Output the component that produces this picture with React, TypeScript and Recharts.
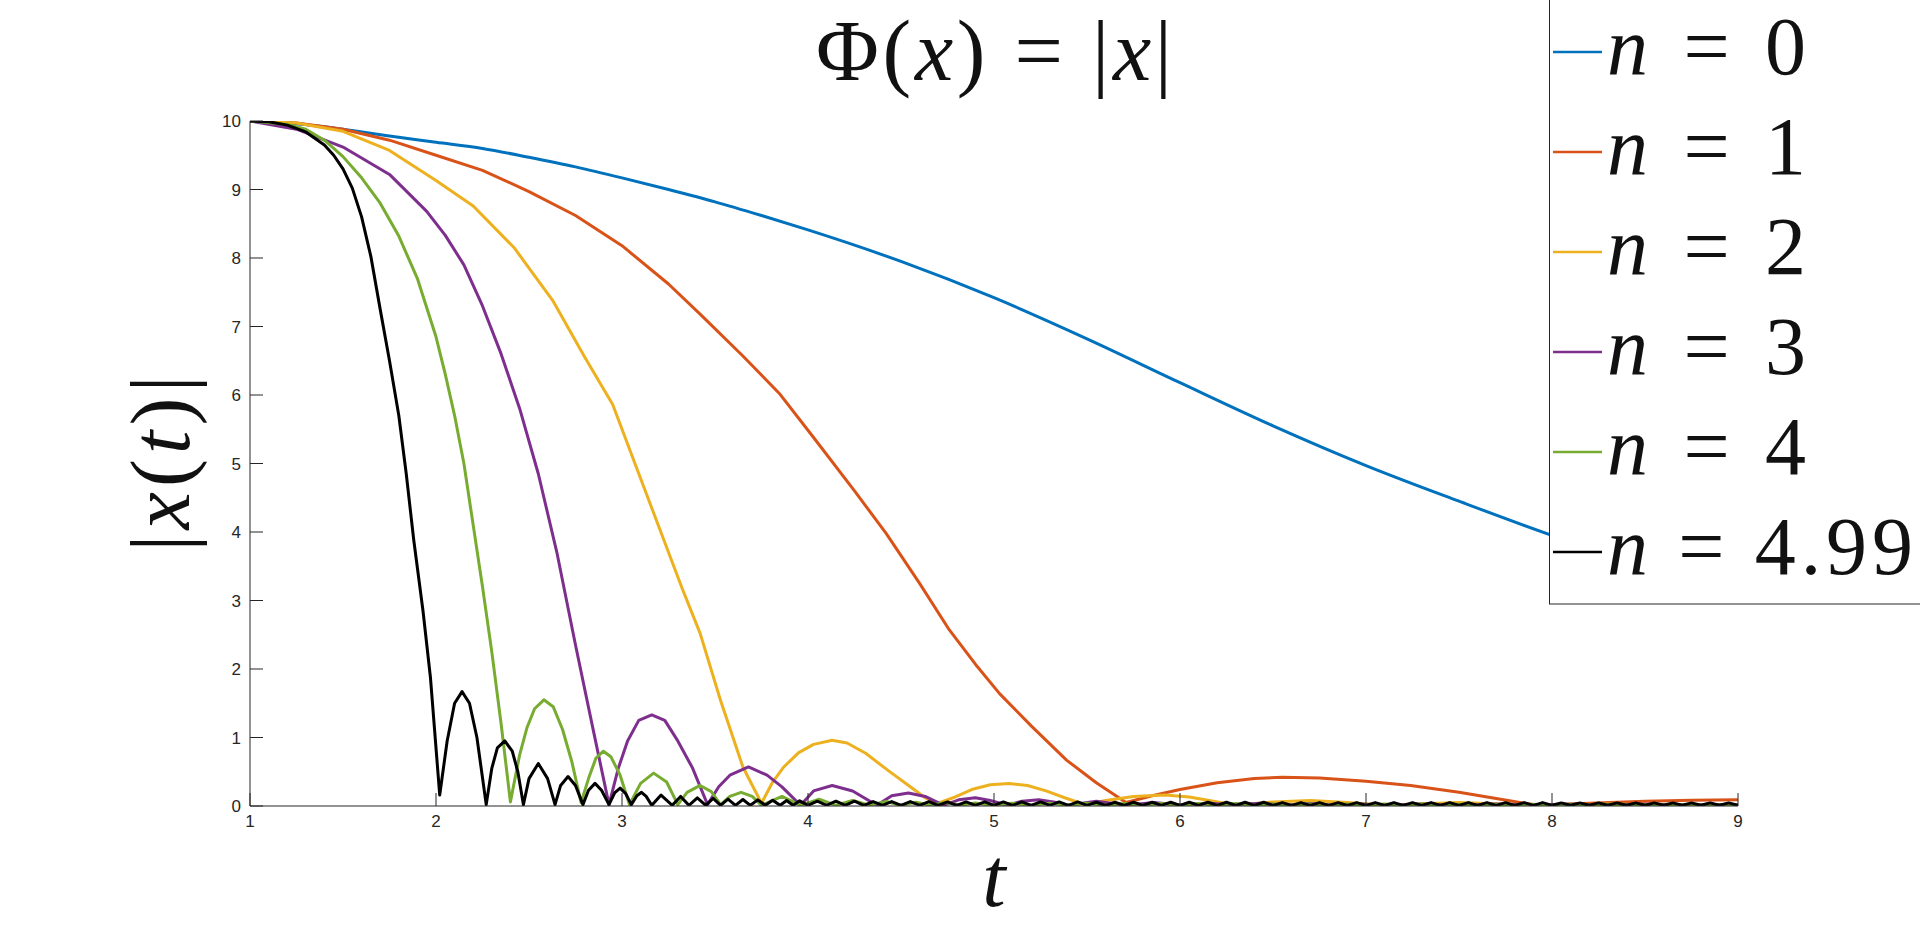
import React from 'react';
import { LineChart, Line, XAxis, YAxis, Label } from 'recharts';

// t grids and |x(t)| values, one pair per n
const tN0 = [1, 1.25, 1.5, 1.75, 2, 2.25, 2.5, 2.75, 3, 3.25, 3.5, 3.75, 4, 4.5, 5, 5.5, 6, 6.5, 7, 7.5, 8, 8.5, 9];
const vN0 = [10, 9.96, 9.88, 9.78, 9.69, 9.6, 9.47, 9.33, 9.17, 9.0, 8.82, 8.62, 8.41, 7.95, 7.42, 6.82, 6.18, 5.55, 4.97, 4.45, 3.95, 3.5, 3.1];

const tN1 = [1, 1.25, 1.5, 1.75, 2, 2.25, 2.5, 2.75, 3, 3.25, 3.42, 3.65, 3.85, 4.03, 4.25, 4.42, 4.6, 4.76, 4.9, 5.03, 5.2, 5.39, 5.55, 5.71, 5.85, 6, 6.2, 6.4, 6.55, 6.75, 7, 7.24, 7.5, 7.7, 7.92, 8.2, 8.5, 8.75, 9];
const vN1 = [10, 9.97, 9.88, 9.72, 9.5, 9.28, 8.97, 8.62, 8.18, 7.62, 7.18, 6.57, 6.01, 5.38, 4.6, 3.98, 3.25, 2.57, 2.07, 1.64, 1.17, 0.67, 0.34, 0.05, 0.15, 0.24, 0.34, 0.4, 0.42, 0.41, 0.36, 0.3, 0.2, 0.11, 0.01, 0.04, 0.07, 0.085, 0.09];

const tN2 = [1, 1.25, 1.5, 1.75, 2, 2.2, 2.42, 2.63, 2.8, 2.95, 3.1, 3.22, 3.32, 3.42, 3.53, 3.65, 3.75, 3.81, 3.87, 3.95, 4.03, 4.13, 4.21, 4.31, 4.43, 4.55, 4.63, 4.7, 4.78, 4.88, 4.98, 5.08, 5.18, 5.28, 5.38, 5.49, 5.6, 5.75, 5.92, 6.05, 6.18, 6.3, 6.5, 6.7, 6.9, 7.1, 7.5, 7.9, 8.3, 8.7, 9];
const vN2 = [10, 9.97, 9.85, 9.57, 9.13, 8.76, 8.15, 7.37, 6.55, 5.86, 4.78, 3.92, 3.2, 2.52, 1.54, 0.57, 0.04, 0.35, 0.57, 0.78, 0.9, 0.96, 0.92, 0.77, 0.52, 0.28, 0.12, 0.04, 0.12, 0.24, 0.31, 0.33, 0.3, 0.22, 0.12, 0.02, 0.08, 0.14, 0.16, 0.13, 0.07, 0.01, 0.06, 0.08, 0.05, 0.01, 0.05, 0.01, 0.03, 0.01, 0.02];

const tN3 = [1, 1.25, 1.5, 1.75, 1.85, 1.95, 2.05, 2.15, 2.25, 2.35, 2.45, 2.55, 2.65, 2.75, 2.85, 2.93, 2.98, 3.03, 3.09, 3.16, 3.23, 3.3, 3.38, 3.46, 3.52, 3.58, 3.68, 3.78, 3.86, 3.96, 4.03, 4.13, 4.24, 4.37, 4.45, 4.54, 4.63, 4.73, 4.81, 4.9, 4.98, 5.07, 5.15, 5.24, 5.32, 5.4, 5.55, 5.71, 5.86, 6.01, 6.15, 6.29, 6.43, 6.57, 6.7, 6.84, 6.97, 7.1, 7.3, 7.5, 7.7, 7.9, 8.1, 8.3, 8.5, 8.7, 8.9, 9];
const vN3 = [10, 9.88, 9.62, 9.22, 8.95, 8.68, 8.33, 7.9, 7.3, 6.6, 5.8, 4.85, 3.7, 2.35, 1.05, 0.02, 0.55, 0.95, 1.25, 1.33, 1.25, 0.95, 0.55, 0.02, 0.28, 0.45, 0.57, 0.45, 0.28, 0.01, 0.22, 0.3, 0.22, 0.01, 0.15, 0.19, 0.14, 0.01, 0.09, 0.12, 0.08, 0.01, 0.07, 0.09, 0.06, 0.01, 0.07, 0.01, 0.05, 0.01, 0.045, 0.01, 0.04, 0.01, 0.035, 0.01, 0.03, 0.01, 0.03, 0.01, 0.03, 0.01, 0.025, 0.01, 0.025, 0.01, 0.02, 0.01];

const tN4 = [1, 1.2, 1.3, 1.4, 1.5, 1.6, 1.7, 1.8, 1.9, 2.0, 2.05, 2.1, 2.15, 2.2, 2.25, 2.3, 2.35, 2.4, 2.45, 2.49, 2.53, 2.58, 2.63, 2.68, 2.73, 2.78, 2.82, 2.86, 2.9, 2.94, 2.99, 3.04, 3.1, 3.17, 3.24, 3.3, 3.35, 3.42, 3.48, 3.53, 3.58, 3.64, 3.7, 3.75, 3.86, 3.96, 4.06, 4.15, 4.24, 4.33, 4.42, 4.5, 4.58, 4.66, 4.74, 4.82, 4.9, 4.98,
  5.1, 5.2, 5.3, 5.4, 5.5, 5.6, 5.7, 5.8, 5.9, 6.0, 6.1, 6.2, 6.3, 6.4, 6.5, 6.6, 6.7, 6.8, 6.9, 7.0,
  7.1, 7.2, 7.3, 7.4, 7.5, 7.6, 7.7, 7.8, 7.9, 8.0, 8.1, 8.2, 8.3, 8.4, 8.5, 8.6, 8.7, 8.8, 8.9, 9.0];
const vN4 = [10, 9.95, 9.88, 9.72, 9.48, 9.17, 8.8, 8.32, 7.7, 6.85, 6.3, 5.7, 5.0, 4.1, 3.2, 2.25, 1.2, 0.06, 0.75, 1.15, 1.42, 1.55, 1.45, 1.12, 0.65, 0.05, 0.4, 0.7, 0.8, 0.72, 0.45, 0.02, 0.33, 0.48, 0.35, 0.02, 0.2, 0.3, 0.21, 0.02, 0.14, 0.2, 0.14, 0.01, 0.14, 0.01, 0.1, 0.01, 0.08, 0.01, 0.065, 0.01, 0.055, 0.01, 0.05, 0.01, 0.045, 0.01,
  0.04, 0.01, 0.04, 0.01, 0.04, 0.01, 0.035, 0.01, 0.035, 0.01, 0.035, 0.01, 0.035, 0.01, 0.03, 0.01, 0.03, 0.01, 0.03, 0.01,
  0.03, 0.01, 0.03, 0.01, 0.025, 0.01, 0.025, 0.01, 0.025, 0.01, 0.025, 0.01, 0.025, 0.01, 0.02, 0.01, 0.02, 0.01, 0.02, 0.01];

const tN5 = [1, 1.1, 1.2, 1.3, 1.4, 1.45, 1.5, 1.55, 1.6, 1.65, 1.7, 1.75, 1.8, 1.84, 1.88, 1.93, 1.97, 2.02, 2.06, 2.1, 2.14, 2.18, 2.22, 2.27, 2.3, 2.33, 2.37, 2.41, 2.44, 2.47, 2.5, 2.55, 2.6, 2.64, 2.67, 2.71, 2.75, 2.79, 2.82, 2.855, 2.89, 2.93, 2.96, 2.99, 3.02, 3.05, 3.08, 3.105, 3.13, 3.16, 3.21, 3.27, 3.315, 3.36, 3.405, 3.45, 3.49, 3.53, 3.57, 3.61, 3.65, 3.69, 3.73, 3.77, 3.81, 3.85, 3.885, 3.92, 3.955,
  4.0, 4.05, 4.1, 4.15, 4.2, 4.25, 4.3, 4.35, 4.4, 4.45,
  4.5, 4.55, 4.6, 4.65, 4.7, 4.75, 4.8, 4.85, 4.9, 4.95,
  5.0, 5.05, 5.1, 5.15, 5.2, 5.25, 5.3, 5.35, 5.4, 5.45,
  5.5, 5.55, 5.6, 5.65, 5.7, 5.75, 5.8, 5.85, 5.9, 5.95,
  6.0, 6.05, 6.1, 6.15, 6.2, 6.25, 6.3, 6.35, 6.4, 6.45,
  6.5, 6.55, 6.6, 6.65, 6.7, 6.75, 6.8, 6.85, 6.9, 6.95,
  7.0, 7.05, 7.1, 7.15, 7.2, 7.25, 7.3, 7.35, 7.4, 7.45,
  7.5, 7.55, 7.6, 7.65, 7.7, 7.75, 7.8, 7.85, 7.9, 7.95,
  8.0, 8.05, 8.1, 8.15, 8.2, 8.25, 8.3, 8.35, 8.4, 8.45,
  8.5, 8.55, 8.6, 8.65, 8.7, 8.75, 8.8, 8.85, 8.9, 8.95,
  9.0];
const vN5 = [10, 9.99, 9.94, 9.84, 9.65, 9.5, 9.3, 9.02, 8.6, 8.02, 7.25, 6.5, 5.7, 4.85, 3.89, 2.85, 1.88, 0.16, 0.95, 1.5, 1.67, 1.5, 1.0, 0.02, 0.55, 0.85, 0.95, 0.8, 0.5, 0.02, 0.4, 0.62, 0.4, 0.02, 0.3, 0.43, 0.3, 0.02, 0.23, 0.33, 0.23, 0.02, 0.19, 0.26, 0.18, 0.02, 0.15, 0.2, 0.14, 0.01, 0.16, 0.01, 0.14, 0.01, 0.12, 0.01, 0.11, 0.01, 0.1, 0.01, 0.095, 0.01, 0.09, 0.01, 0.085, 0.01, 0.08, 0.01, 0.075,
  0.01, 0.07, 0.01, 0.07, 0.01, 0.07, 0.01, 0.065, 0.01, 0.065,
  0.01, 0.065, 0.01, 0.065, 0.01, 0.06, 0.01, 0.06, 0.01, 0.06,
  0.01, 0.06, 0.01, 0.06, 0.01, 0.06, 0.01, 0.06, 0.01, 0.06,
  0.01, 0.055, 0.01, 0.055, 0.01, 0.055, 0.01, 0.055, 0.01, 0.055,
  0.01, 0.055, 0.01, 0.055, 0.01, 0.055, 0.01, 0.055, 0.01, 0.055,
  0.01, 0.05, 0.01, 0.05, 0.01, 0.05, 0.01, 0.05, 0.01, 0.05,
  0.01, 0.05, 0.01, 0.05, 0.01, 0.05, 0.01, 0.05, 0.01, 0.05,
  0.01, 0.05, 0.01, 0.05, 0.01, 0.05, 0.01, 0.05, 0.01, 0.05,
  0.01, 0.045, 0.01, 0.045, 0.01, 0.045, 0.01, 0.045, 0.01, 0.045,
  0.01, 0.045, 0.01, 0.045, 0.01, 0.045, 0.01, 0.045, 0.01, 0.045,
  0.01];

const xTicks = [1, 2, 3, 4, 5, 6, 7, 8, 9];
const yTicks = [0, 1, 2, 3, 4, 5, 6, 7, 8, 9, 10];

const toPoints = (ts: number[], vs: number[]) => ts.map((t, i) => ({ t, v: vs[i] }));

const series = [
  { label: '0', color: '#0072BD', curve: 'monotone', data: toPoints(tN0, vN0) },
  { label: '1', color: '#D95319', curve: 'linear', data: toPoints(tN1, vN1) },
  { label: '2', color: '#EDB120', curve: 'linear', data: toPoints(tN2, vN2) },
  { label: '3', color: '#7E2F8E', curve: 'linear', data: toPoints(tN3, vN3) },
  { label: '4', color: '#77AC30', curve: 'linear', data: toPoints(tN4, vN4) },
  { label: '4.99', color: '#000000', curve: 'linear', data: toPoints(tN5, vN5) },
];

const AXIS = '#262626';
const SERIF = "'Liberation Serif', 'Times New Roman', serif";
const SANS = "'Liberation Sans', Arial, Helvetica, sans-serif";
const TICK_MARGIN = 9;
const TICK_LEN = 13;

const YTick = (props: any) => {
  const { x, y, payload } = props;
  return (
    <g>
      <line x1={x + TICK_MARGIN} x2={x + TICK_MARGIN + TICK_LEN} y1={y} y2={y} stroke={AXIS} strokeWidth={1} />
      <text x={x} y={y} dy="0.36em" textAnchor="end" fontFamily={SANS} fontSize={17} fill={AXIS}>
        {payload.value}
      </text>
    </g>
  );
};

const XTick = (props: any) => {
  const { x, y, payload } = props;
  return (
    <g>
      <line x1={x} x2={x} y1={y - TICK_MARGIN} y2={y - TICK_MARGIN - TICK_LEN} stroke={AXIS} strokeWidth={1} />
      <text x={x} y={y} dy="0.72em" textAnchor="middle" fontFamily={SANS} fontSize={17} fill={AXIS}>
        {payload.value}
      </text>
    </g>
  );
};

const YLabel = (props: any) => {
  const vb = props.viewBox || {};
  const bx = vb.x - 1;
  const cy = vb.y + vb.height / 2;
  return (
    <text
      x={bx}
      y={cy}
      transform={`rotate(-90, ${bx}, ${cy})`}
      textAnchor="middle"
      fontFamily={SERIF}
      fontSize={84}
      fill="#111"
      textLength={176}
      lengthAdjust="spacing"
    >
      <tspan>|</tspan>
      <tspan fontStyle="italic">x</tspan>
      <tspan>(</tspan>
      <tspan fontStyle="italic">t</tspan>
      <tspan>)|</tspan>
    </text>
  );
};

const XLabel = (props: any) => {
  const vb = props.viewBox || {};
  return (
    <text
      x={vb.x + vb.width / 2}
      y={vb.y + 100}
      textAnchor="middle"
      fontFamily={SERIF}
      fontStyle="italic"
      fontSize={84}
      fill="#111"
    >
      t
    </text>
  );
};

const App: React.FC = () => {
  return (
    <div style={{ position: 'absolute', left: 0, top: 0, width: 1920, height: 936, background: '#fff', overflow: 'hidden' }}>
      <LineChart width={1920} height={936} margin={{ top: 121, right: 182, bottom: 70, left: 190 }}>
        <XAxis
          dataKey="t"
          type="number"
          domain={[1, 9]}
          ticks={xTicks}
          allowDataOverflow
          height={60}
          stroke={AXIS}
          tickSize={0}
          tickMargin={TICK_MARGIN}
          tickLine={false}
          tick={<XTick />}
        >
          <Label content={<XLabel />} />
        </XAxis>
        <YAxis
          type="number"
          domain={[0, 10]}
          ticks={yTicks}
          allowDataOverflow
          width={60}
          stroke={AXIS}
          tickSize={0}
          tickMargin={TICK_MARGIN}
          tickLine={false}
          tick={<YTick />}
        >
          <Label content={<YLabel />} />
        </YAxis>
        {series.map((s) => (
          <Line
            key={s.label}
            data={s.data}
            dataKey="v"
            name={`n = ${s.label}`}
            type={s.curve as any}
            stroke={s.color}
            strokeWidth={3}
            strokeLinejoin="round"
            dot={false}
            activeDot={false}
            isAnimationActive={false}
          />
        ))}
      </LineChart>
      <svg width={1920} height={936} style={{ position: 'absolute', left: 0, top: 0, pointerEvents: 'none' }}>
        <text
          x={994}
          y={80}
          textAnchor="middle"
          fontFamily={SERIF}
          fontSize={86}
          fill="#111"
          textLength={356}
          lengthAdjust="spacing"
        >
          <tspan>Φ(</tspan>
          <tspan fontStyle="italic">x</tspan>
          <tspan>) = |</tspan>
          <tspan fontStyle="italic">x</tspan>
          <tspan>|</tspan>
        </text>
        <rect x={1549.5} y={-1} width={400} height={605} fill="#fff" stroke={AXIS} strokeWidth={1} />
        {series.map((s, i) => {
          const rowY = 52 + i * 100;
          return (
            <g key={s.label}>
              <line x1={1553} x2={1602} y1={rowY} y2={rowY} stroke={s.color} strokeWidth={2.6} />
              <text
                x={1607}
                y={rowY + 22}
                fontFamily={SERIF}
                fontSize={82}
                fill="#111"
                textLength={s.label.length > 1 ? 306 : 199}
                lengthAdjust="spacing"
              >
                <tspan fontStyle="italic">n</tspan>
                <tspan>{` = ${s.label}`}</tspan>
              </text>
            </g>
          );
        })}
      </svg>
    </div>
  );
};

export default App;
